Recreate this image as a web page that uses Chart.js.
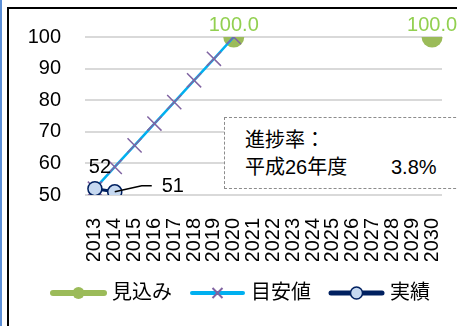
<!DOCTYPE html>
<html>
<head>
<meta charset="utf-8">
<script src="https://cdn.jsdelivr.net/npm/chart.js/dist/chart.umd.min.js"></script>
<style>
    body {
        margin: 0;
        width: 457px;
        height: 326px;
        overflow: hidden;
        position: relative;
        background: #fff;
        font-family: "Liberation Sans", "Noto Sans CJK JP", sans-serif;
    }
    #blue { position: absolute; left: 0; top: 0; width: 2px; height: 326px; background: #5b8ed6; }
    #frame { position: absolute; left: 7px; top: 7px; width: 520px; height: 400px; border-left: 2px solid #000; border-top: 2px solid #000; }
    #wrap { position: absolute; left: 9px; top: 9px; width: 474px; height: 317px; }
    #note {
        position: absolute; left: 224px; top: 117px; width: 260px; height: 70px;
        border: 1px dashed #8c8c8c; background: #fff; font-size: 20px; color: #000;
    }
    #note div { position: absolute; line-height: 26px; white-space: nowrap; }
</style>
</head>
<body>
<div id="blue"></div>
<div id="frame"></div>
<div id="wrap"><canvas id="myChart" width="474" height="317"></canvas></div>
<div id="note">
    <div style="left:20px; top:9px;">進捗率：</div>
    <div style="left:20px; top:36px;">平成26年度</div>
    <div style="left:166px; top:36px;">3.8%</div>
</div>

<script>
    // datos
    const years = ['2013','2014','2015','2016','2017','2018','2019','2020','2021',
                   '2022','2023','2024','2025','2026','2027','2028','2029','2030'];
    const mikomi  = [null, null, null, null, null, null, null, 100, null, null, null, null, null, null, null, null, null, 100];
    const meyasu  = [52, 58.9, 65.7, 72.6, 79.4, 86.3, 93.1, 100, null, null, null, null, null, null, null, null, null, null];
    const jisseki = [52, 51, null, null, null, null, null, null, null, null, null, null, null, null, null, null, null, null];
    const yTicks = [50, 60, 70, 80, 90, 100];

    const FONT = '"Liberation Sans", "Noto Sans CJK JP", sans-serif';
    Chart.defaults.font.family = FONT;

    // imagen de leyenda: linea + marcador
    function legendImg(color, lw, marker) {
        const c = document.createElement('canvas');
        c.width = 57; c.height = 20;
        const g = c.getContext('2d');
        g.strokeStyle = color; g.lineWidth = lw; g.lineCap = 'round';
        g.beginPath(); g.moveTo(3, 10); g.lineTo(54, 10); g.stroke();
        marker(g);
        return c;
    }
    const imgMikomi = legendImg('#9bbb59', 6, g => {
        g.fillStyle = '#9bbb59'; g.beginPath(); g.arc(28.5, 10, 6, 0, Math.PI * 2); g.fill();
    });
    const imgMeyasu = legendImg('#00b0f0', 4, g => {
        g.strokeStyle = '#8064a2'; g.lineWidth = 2; g.lineCap = 'butt';
        g.beginPath(); g.moveTo(23.5, 5); g.lineTo(33.5, 15); g.moveTo(33.5, 5); g.lineTo(23.5, 15); g.stroke();
    });
    const imgJisseki = legendImg('#002060', 5, g => {
        g.fillStyle = '#c6d9f1'; g.strokeStyle = '#002060'; g.lineWidth = 1.5;
        g.beginPath(); g.arc(28.5, 10, 6, 0, Math.PI * 2); g.fill(); g.stroke();
    });

    const labelPlugin = {
        id: 'valueLabels',
        afterDatasetsDraw(chart) {
            const g = chart.ctx;
            g.save();
            g.font = '20px ' + FONT;
            g.textBaseline = 'middle';

            // 見込み
            const m0 = chart.getDatasetMeta(0);
            g.fillStyle = '#92d050';
            g.textAlign = 'center';
            mikomi.forEach((v, i) => {
                if (v == null) return;
                const p = m0.data[i];
                g.fillText(v.toFixed(1), p.x, p.y - 12);
            });

            // 実績
            const m2 = chart.getDatasetMeta(2);
            g.fillStyle = '#000';
            const p0 = m2.data[0];
            g.fillText(String(jisseki[0]), p0.x + 5, p0.y - 21);
            const p1 = m2.data[1];
            g.strokeStyle = '#000'; g.lineWidth = 1.5;
            g.beginPath();
            g.moveTo(p1.x, p1.y);
            g.lineTo(p1.x + 27, p1.y - 6);
            g.lineTo(p1.x + 37, p1.y - 6);
            g.stroke();
            g.textAlign = 'left';
            g.fillText(String(jisseki[1]), p1.x + 47, p1.y - 5);
            g.restore();
        }
    };

    const ctx = document.getElementById('myChart').getContext('2d');
    const myChart = new Chart(ctx, {
        type: 'line',
        data: {
            labels: years,
            datasets: [
                {
                    label: '見込み', data: mikomi, showLine: false,
                    pointRadius: 10.5, pointBackgroundColor: '#9bbb59', pointBorderWidth: 0,
                    borderColor: '#9bbb59', order: 3
                },
                {
                    label: '目安値', data: meyasu, borderColor: '#00b0f0', borderWidth: 2.5,
                    pointStyle: 'crossRot', pointRadius: 10, pointBorderColor: '#8064a2',
                    pointBorderWidth: 1.5, order: 2
                },
                {
                    label: '実績', data: jisseki, borderColor: '#002060', borderWidth: 3,
                    pointRadius: 7, pointBackgroundColor: '#c6d9f1', pointBorderColor: '#002060',
                    pointBorderWidth: 1.5, order: 1
                }
            ]
        },
        plugins: [labelPlugin],
        options: {
            responsive: false,
            animation: false,
            events: [],
            layout: { padding: { left: 0, right: 7, top: 28, bottom: 13 } },
            plugins: {
                tooltip: { enabled: false },
                legend: {
                    position: 'bottom',
                    labels: {
                        usePointStyle: true,
                        pointStyleWidth: 47,
                        padding: 22,
                        color: '#000',
                        font: { size: 20 },
                        generateLabels: () => [
                            { text: '見込み', pointStyle: imgMikomi, fontColor: '#000', lineWidth: 0, hidden: false, datasetIndex: 0 },
                            { text: '目安値', pointStyle: imgMeyasu, fontColor: '#000', lineWidth: 0, hidden: false, datasetIndex: 1 },
                            { text: '実績', pointStyle: imgJisseki, fontColor: '#000', lineWidth: 0, hidden: false, datasetIndex: 2 }
                        ]
                    }
                }
            },
            scales: {
                x: {
                    offset: true,
                    grid: { display: false },
                    border: { display: false },
                    ticks: {
                        autoSkip: false, minRotation: 90, maxRotation: 90,
                        padding: 15, color: '#000', font: { size: 20 }
                    },
                    afterFit: s => { s.height = 66; }
                },
                y: {
                    min: yTicks[0], max: yTicks[yTicks.length - 1],
                    afterBuildTicks: s => { s.ticks = yTicks.map(v => ({ value: v })); },
                    grid: { color: '#d9d9d9', lineWidth: 2, drawTicks: false },
                    border: { display: false },
                    ticks: { autoSkip: false, padding: 24, color: '#000', font: { size: 20 } },
                    afterFit: s => { s.width = 76; s.paddingTop = 0; s.paddingBottom = 0; }
                },
                // espacio vacio a la derecha
                y2: {
                    position: 'right',
                    grid: { display: false },
                    border: { display: false },
                    ticks: { display: false },
                    afterFit: s => { s.width = 34; }
                }
            }
        }
    });
</script>
</body>
</html>
